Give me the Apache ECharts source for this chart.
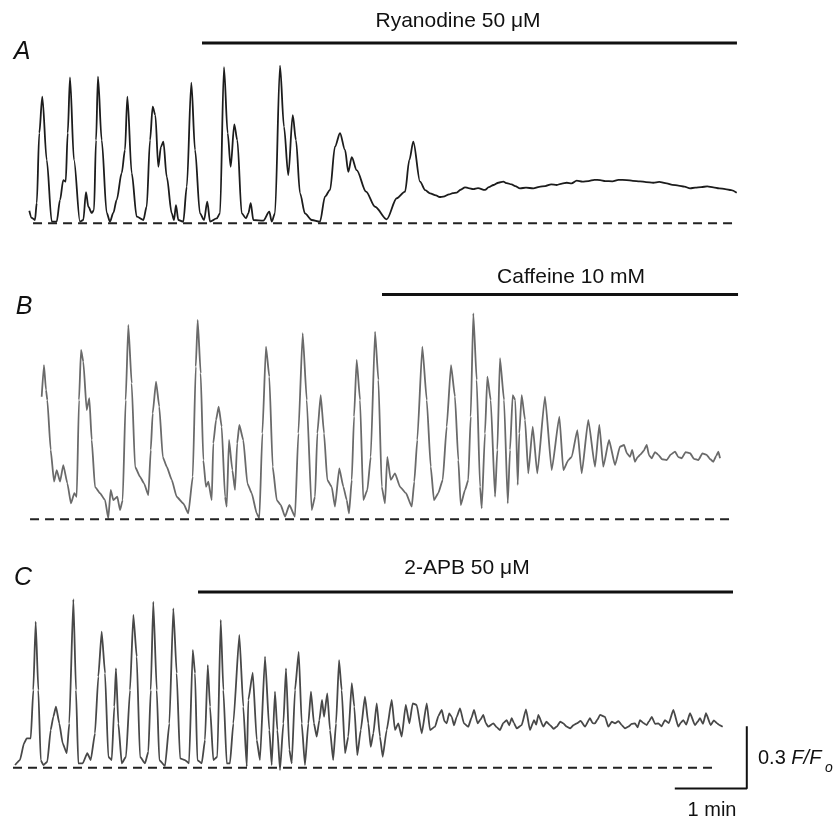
<!DOCTYPE html>
<html lang="en">
<head>
<meta charset="UTF-8">
<title>Ca oscillations</title>
<script src="https://cdn.jsdelivr.net/npm/echarts@6.0.0/dist/echarts.min.js"></script>
<style>
    *{margin:0;padding:0;}
    #main{width:834px;height:818px;background:#fff;}
</style>
</head>
<body>
<div id="main"></div>
<script type="text/javascript">
// [time (s), dF/F0 above resting level]
var traceA = [[16.1,0.061],[18.1,0.026],[20.8,0.016],[22.3,0.098],[24.4,0.436],[26.9,0.612],[30.6,0.306],[34.8,0.008],[38.9,0.008],[41.7,0.113],
    [44.4,0.209],[46.4,0.201],[48.1,0.436],[50,0.705],[53.3,0.306],[58.3,0.008],[61.1,0.016],[63.3,0.151],[65.3,0.080],[68.1,0.050],
    [70,0.064],[71.7,0.402],[73.3,0.708],[76.4,0.402],[80.6,0.050],[83.3,0.008],[86.1,0.050],[88.9,0.113],[93.1,0.243],[95.8,0.354],
    [97.8,0.612],[101.4,0.243],[105.6,0.032],[111.1,0.016],[113.9,0.080],[116.7,0.402],[118.9,0.563],[121.1,0.523],[123.6,0.273],[125.8,0.370],
    [127.8,0.394],[130.6,0.225],[134.8,0.048],[136.7,0.016],[138.3,0.088],[140.3,0.016],[144.4,0.008],[147.3,0.177],[151.1,0.679],[154.2,0.354],
    [158.3,0.048],[161.7,0.016],[164.4,0.104],[166.7,0.008],[172.3,0.024],[175,0.048],[178.3,0.754],[181.4,0.435],[183.9,0.273],[186.9,0.478],
    [189.4,0.402],[193.1,0.048],[196.7,0.024],[198.6,0.048],[200.6,0.097],[202.8,0.016],[211.1,0.013],[216.1,0.056],[218.1,0.008],[220.8,0.048],
    [225,0.761],[228.3,0.467],[231.9,0.233],[235.6,0.523],[238.3,0.402],[241.7,0.145],[245.8,0.048],[251.4,0.016],[258.3,0.008],[262.5,0.129],
    [266.7,0.161],[270.8,0.370],[275,0.435],[279.2,0.354],[281.9,0.249],[284.8,0.319],[288.9,0.257],[296.7,0.153],[304.2,0.080],[313.9,0.019],
    [322.3,0.121],[329.2,0.153],[332.8,0.306],[336.1,0.394],[341.7,0.201],[346,0.160],[350,0.145],[355,0.135],[358,0.127],[361.1,0.129],
    [366,0.140],[369,0.146],[372.3,0.148],[375.5,0.162],[379.2,0.174],[382,0.170],[386,0.165],[390,0.170],[395.8,0.161],[399,0.175],
    [403,0.185],[407,0.196],[411.1,0.201],[414,0.194],[418,0.188],[421,0.180],[425,0.169],[430,0.172],[436.1,0.169],[441,0.176],
    [446,0.180],[451,0.188],[455.6,0.185],[460,0.192],[464,0.196],[468,0.193],[472.3,0.206],[477,0.201],[482,0.204],[487,0.210],
    [491.7,0.209],[496,0.204],[502,0.203],[507,0.210],[513.9,0.209],[519,0.205],[525,0.203],[530,0.199],[536.1,0.196],[541,0.200],
    [547.3,0.193],[552,0.186],[557,0.182],[562,0.177],[566.7,0.169],[571,0.172],[576,0.175],[581,0.178],[586.1,0.174],[591,0.169],
    [596,0.165],[601,0.160],[605.6,0.148]];

var traceB = [[26.4,0.592],[28.3,0.745],[30,0.625],[31.1,0.576],[33.9,0.335],[36.7,0.182],[38.9,0.238],[41.7,0.182],[44.4,0.262],[47.8,0.174],
    [50.8,0.077],[53.6,0.126],[55.6,0.109],[57.5,0.576],[59.2,0.818],[61.1,0.761],[63.9,0.528],[66.1,0.585],[68.1,0.383],[70.8,0.157],
    [75,0.126],[79.2,0.093],[81.9,0.005],[83.9,0.142],[86.1,0.093],[89.4,0.109],[91.7,0.045],[93.9,0.093],[96.4,0.576],[98.6,0.939],
    [101.4,0.657],[104.2,0.254],[108.3,0.206],[111.7,0.174],[115.3,0.117],[117.3,0.335],[118.9,0.512],[121.7,0.665],[124.4,0.544],[127.3,0.302],
    [130.6,0.254],[134.8,0.190],[138.9,0.109],[144.4,0.077],[148.6,0.029],[152.3,0.206],[154.8,0.737],[156.4,0.963],[158.9,0.705],[161.1,0.286],
    [163.3,0.157],[165.3,0.182],[168.1,0.093],[169.4,0.367],[171.7,0.480],[173.9,0.544],[176.4,0.447],[179.2,0.109],[180.6,0.061],[182.5,0.383],
    [185.3,0.238],[187.5,0.142],[189.3,0.367],[191.1,0.456],[194.4,0.383],[197.8,0.174],[201.4,0.126],[205.6,0.029],[207.8,0.005],[210.3,0.415],
    [213.3,0.834],[216.1,0.689],[218.9,0.254],[222.3,0.093],[225.6,0.069],[229.2,0.013],[232.8,0.069],[237.5,0.013],[240.3,0.415],[243.9,0.899],
    [247.3,0.576],[251.4,0.045],[254.2,0.109],[256.1,0.415],[258.9,0.600],[261.7,0.415],[264.4,0.190],[268.1,0.157],[270.8,0.061],[274.4,0.246],
    [277.8,0.157],[280.6,0.093],[282.5,0.029],[284.8,0.190],[286.7,0.496],[288.9,0.770],[291.7,0.576],[294.4,0.093],[297.8,0.142],[300.6,0.302],
    [304.2,0.906],[307,0.673],[309.8,0.157],[312.5,0.077],[314.4,0.302],[317.3,0.190],[320.8,0.222],[325,0.157],[330,0.126],[334.8,0.061],
    [336.9,0.182],[339.4,0.383],[343.6,0.834],[347.3,0.576],[350.6,0.254],[353.3,0.093],[356.9,0.126],[360.6,0.190],[363.9,0.447],[367.5,0.745],
    [370.8,0.592],[373.6,0.286],[375.6,0.069],[379.2,0.142],[381.9,0.190],[383.9,0.496],[386.1,0.995],[388.9,0.673],[391.7,0.157],[393.1,0.053],
    [395.8,0.415],[397.8,0.689],[400.6,0.576],[404.2,0.109],[406.1,0.335],[408.3,0.778],[411.7,0.576],[414.8,0.077],[416.7,0.335],[418.9,0.600],
    [421.1,0.576],[423.1,0.166],[424.4,0.415],[426.4,0.600],[429.2,0.480],[431.9,0.222],[435.6,0.447],[439.4,0.222],[445.8,0.592],[451.4,0.238],
    [457.8,0.496],[461.1,0.238],[465.3,0.286],[468.1,0.302],[472.8,0.431],[476.4,0.222],[481.9,0.480],[487.5,0.254],[491.1,0.456],[494.4,0.254],
    [499.2,0.383],[504.2,0.262],[508.3,0.351],[511.7,0.359],[514,0.320],[516.7,0.302],[518.5,0.335],[520.8,0.278],[523,0.300],[525,0.311],
    [528,0.330],[530.6,0.359],[532.5,0.310],[534.8,0.295],[537.5,0.325],[540.3,0.311],[543.5,0.290],[547.3,0.286],[550.5,0.312],[554.2,0.327],
    [557,0.300],[559.8,0.295],[563,0.325],[566.7,0.319],[570,0.292],[573.6,0.286],[577,0.318],[580.6,0.311],[583.5,0.290],[586.1,0.278],
    [588.4,0.305],[590.3,0.327],[591.7,0.295]];

var traceC = [[4.2,0.013],[8.3,0.037],[11.7,0.118],[13.9,0.142],[17.3,0.142],[19.4,0.375],[21.4,0.705],[23.6,0.375],[25.6,0.037],[27.8,0.013],
    [31.1,0.029],[33.9,0.182],[36.1,0.246],[38.3,0.295],[41.1,0.214],[43.9,0.118],[47.3,0.070],[49.4,0.214],[52.8,0.814],[55,0.375],
    [56.9,0.021],[60.6,0.021],[64.4,0.070],[67.3,0.037],[70.8,0.166],[73.6,0.440],[76.4,0.657],[79.2,0.456],[81.9,0.053],[84.8,0.037],
    [86.9,0.295],[88.3,0.480],[90.3,0.214],[93.1,0.021],[96.7,0.053],[100,0.375],[102.8,0.738],[105.6,0.536],[108.3,0.053],[112.5,0.021],
    [115.3,0.077],[117.3,0.375],[119.4,0.802],[122.3,0.375],[124.4,0.037],[129.2,0.008],[132.8,0.214],[136.1,0.770],[138.9,0.456],[141.7,0.045],
    [145.8,0.037],[149.2,0.021],[152.3,0.569],[154.2,0.456],[156.1,0.037],[159.8,0.021],[162.5,0.134],[164.8,0.496],[166.7,0.295],[169.4,0.037],
    [172.8,0.053],[175.6,0.714],[177.8,0.375],[180.6,0.021],[183.3,0.021],[186.1,0.214],[191.1,0.641],[194.4,0.295],[197.3,0.005],[198.6,0.327],
    [202.3,0.459],[205.6,0.134],[208.3,0.037],[212.5,0.536],[216.1,0.182],[218.1,0.013],[220.8,0.367],[222.8,0.182],[225,-0.011],[227.8,0.214],
    [230,0.480],[232.8,0.086],[234.8,0.021],[237.5,0.375],[240.6,0.560],[243.1,0.214],[245.8,0.013],[248.6,0.214],[250.8,0.367],[253.3,0.214],
    [255.6,0.150],[257.8,0.230],[260,0.327],[261.7,0.246],[264.4,0.359],[266.7,0.182],[269.3,0.037],[271.7,0.214],[274.2,0.520],[276.4,0.375],
    [279.2,0.070],[281.9,0.150],[284.8,0.408],[286.9,0.295],[289.4,0.061],[292.3,0.182],[295.8,0.343],[298.6,0.214],[300.6,0.101],[302.8,0.166],
    [305.6,0.311],[308.3,0.150],[310.6,0.053],[313.9,0.182],[318.1,0.327],[320.8,0.182],[323.6,0.214],[326.4,0.150],[329.8,0.303],[332.8,0.214],
    [335.6,0.311],[338.9,0.303],[343.1,0.166],[347.3,0.311],[350,0.182],[354.2,0.198],[357,0.250],[359.8,0.279],[362,0.225],[363.9,0.214],
    [366,0.262],[368.1,0.246],[370,0.205],[372.3,0.246],[375,0.287],[378.3,0.214],[381.9,0.198],[384.5,0.240],[386.7,0.279],[389.7,0.214],
    [392,0.232],[394.4,0.255],[396.5,0.215],[398.6,0.198],[402.8,0.214],[405.5,0.196],[408.3,0.182],[411,0.215],[413.9,0.230],[416,0.205],
    [418.1,0.239],[420,0.215],[422.3,0.190],[426.4,0.206],[430,0.282],[433.3,0.182],[436.7,0.230],[438.5,0.208],[440.3,0.255],[444.4,0.198],
    [447,0.222],[450,0.206],[453,0.188],[455.6,0.198],[458.5,0.222],[461.1,0.214],[464,0.198],[466.7,0.190],[469.5,0.205],[472.3,0.214],
    [475.5,0.226],[479.2,0.198],[483.3,0.239],[485.5,0.215],[487.5,0.214],[489.5,0.232],[491.7,0.255],[495.8,0.246],[498.6,0.198],[501.5,0.222],
    [504.2,0.214],[507,0.225],[509.8,0.206],[512.5,0.190],[515.3,0.198],[518,0.212],[520.8,0.214],[523,0.195],[525,0.230],[528,0.215],
    [530.6,0.206],[532.5,0.224],[534.8,0.246],[537.5,0.212],[540.3,0.214],[543,0.200],[545.8,0.230],[549,0.215],[552.8,0.279],[556.9,0.198],
    [559,0.218],[561.1,0.230],[563.5,0.208],[566.7,0.263],[570.8,0.206],[573,0.222],[575,0.239],[577.5,0.212],[580,0.263],[583.9,0.206],
    [586.5,0.228],[589.3,0.214],[591.5,0.205],[593.9,0.198]];

// resting level (dashed) extents, s
var restA = [19.2, 602.5];
var restB = [16.7, 599.2];
var restC = [2.5, 587.5];

// drug application bars: [start s, end s, level]
var drugA = [160, 605.8, 0.871];
var drugB = [310, 606.7, 1.086];
var drugC = [156.7, 602.5, 0.849];
var drugNames = ['Ryanodine 50 \u03bcM', 'Caffeine 10 mM', '2-APB 50 \u03bcM'];
var panelNames = ['A', 'B', 'C'];

// scale bar: 1 min x 0.3 F/F0
var scaleBar = [[554, -0.1], [614, -0.1], [614, 0.2]];

var dom = document.getElementById('main');
var myChart = echarts.init(dom, null, {renderer: 'canvas'});

var FONT = '"Liberation Sans", Arial, sans-serif';

function restLine(r) { return [[r[0], 0], [r[1], 0]]; }
function drugLine(d) { return [[d[0], d[2]], [d[1], d[2]]]; }

var traceColors = ['#1c1c1c', '#6a6a6a', '#484848'];
var traceSmooth = [0.3, 0.15, 0.15];
var traces = [traceA, traceB, traceC];
var rests = [restA, restB, restC];
var drugs = [drugA, drugB, drugC];

var series = [];
for (var i = 0; i < 3; i++) {
    series.push({
        type: 'line', xAxisIndex: i, yAxisIndex: i,
        data: traces[i], showSymbol: false, silent: true,
        smooth: traceSmooth[i], smoothMonotone: 'x',
        lineStyle: {color: traceColors[i], width: 1.8},
        animation: false
    });
    series.push({
        type: 'line', xAxisIndex: i, yAxisIndex: i,
        data: restLine(rests[i]), showSymbol: false, silent: true,
        lineStyle: {color: '#222', width: 2, type: [9, 6]},
        animation: false
    });
    series.push({
        type: 'line', xAxisIndex: i, yAxisIndex: i,
        data: drugLine(drugs[i]), showSymbol: false, silent: true,
        lineStyle: {color: '#111', width: 3},
        animation: false
    });
}
series.push({
    type: 'line', xAxisIndex: 2, yAxisIndex: 2,
    data: scaleBar, showSymbol: false, silent: true, clip: false,
    lineStyle: {color: '#111', width: 2},
    animation: false
});

var option = {
    backgroundColor: '#fff',
    animation: false,
    grid: [
        {left: 10, width: 750, top: 26.65, height: 207},
        {left: 10, width: 750, top: 281.25, height: 248.4},
        {left: 10, width: 750, top: 581.4, height: 217.35}
    ],
    xAxis: [0, 1, 2].map(function (i) {
        return {type: 'value', gridIndex: i, min: 0, max: 625, show: false};
    }),
    yAxis: [
        {type: 'value', gridIndex: 0, min: -0.05, max: 0.95, show: false},
        {type: 'value', gridIndex: 1, min: -0.05, max: 1.15, show: false},
        {type: 'value', gridIndex: 2, min: -0.15, max: 0.9, show: false}
    ],
    graphic: [
        {type: 'text', x: 22, y: 52, style: {text: panelNames[0], font: 'italic 25px ' + FONT, fill: '#111', align: 'center', verticalAlign: 'middle'}},
        {type: 'text', x: 24, y: 307, style: {text: panelNames[1], font: 'italic 25px ' + FONT, fill: '#111', align: 'center', verticalAlign: 'middle'}},
        {type: 'text', x: 23, y: 578, style: {text: panelNames[2], font: 'italic 25px ' + FONT, fill: '#111', align: 'center', verticalAlign: 'middle'}},
        {type: 'text', x: 458, y: 21, style: {text: drugNames[0], font: '21px ' + FONT, fill: '#111', align: 'center', verticalAlign: 'middle'}},
        {type: 'text', x: 571, y: 277, style: {text: drugNames[1], font: '21px ' + FONT, fill: '#111', align: 'center', verticalAlign: 'middle'}},
        {type: 'text', x: 467, y: 568, style: {text: drugNames[2], font: '21px ' + FONT, fill: '#111', align: 'center', verticalAlign: 'middle'}},
        {type: 'text', x: 758, y: 758, style: {
            text: '{a|0.3 }{b|F/F}',
            rich: {a: {font: '20px ' + FONT, fill: '#111'}, b: {font: 'italic 20px ' + FONT, fill: '#111'}},
            align: 'left', verticalAlign: 'middle'}},
        {type: 'text', x: 825, y: 768, style: {text: 'o', font: 'italic 14px ' + FONT, fill: '#111', align: 'left', verticalAlign: 'middle'}},
        {type: 'text', x: 712, y: 810, style: {text: '1 min', font: '20px ' + FONT, fill: '#111', align: 'center', verticalAlign: 'middle'}}
    ],
    series: series
};

myChart.setOption(option);
</script>
</body>
</html>
